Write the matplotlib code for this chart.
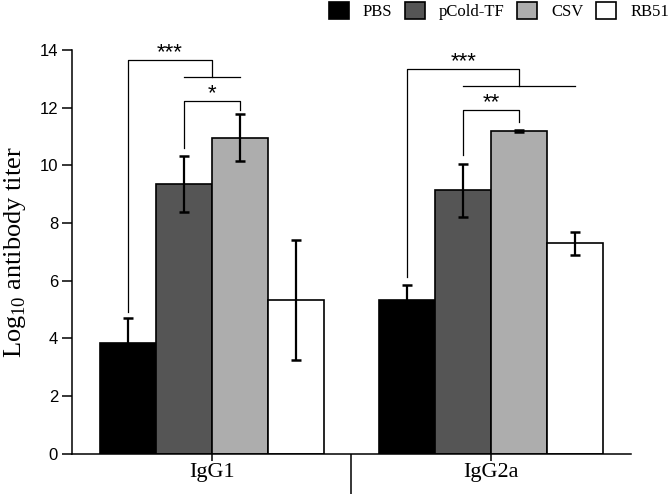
import matplotlib
matplotlib.use("Agg")
import matplotlib.pyplot as plt
import numpy as np

# Data
groups = ["IgG1", "IgG2a"]
treatments = ["PBS", "pCold-TF", "CSV", "RB51"]
colors = ["#000000", "#555555", "#adadad", "#ffffff"]

# mean log10 titer per treatment, one value per group
means = {
    "PBS": [3.84, 5.33],
    "pCold-TF": [9.35, 9.13],
    "CSV": [10.96, 11.19],
    "RB51": [5.33, 7.29],
}
errors = {
    "PBS": [0.87, 0.52],
    "pCold-TF": [0.97, 0.92],
    "CSV": [0.82, 0.04],
    "RB51": [2.08, 0.39],
}

# significance brackets: (group, left bar, right bar, left end, right end, top, label)
brackets = [
    (0, 1, 2, 10.59, 11.92, 12.22, "*"),
    (1, 1, 2, 10.36, 11.51, 11.91, "**"),
]
# bracket from PBS to a line spanning several bars: (group, to bar, span bars, left end, line y, top, label)
wide_brackets = [
    (0, 1.5, (1, 2), 4.92, 13.05, 13.64, "***"),
    (1, 2, (1, 3), 6.13, 12.76, 13.34, "***"),
]

serif = "Liberation Serif"
sans = "Liberation Sans"

fig = plt.figure(figsize=(6.69, 4.95), dpi=100)
ax = fig.add_axes([0.1076, 0.0838, 0.8356, 0.815])

x = np.arange(len(groups))
width = 0.2
offsets = [-0.3, -0.1, 0.1, 0.3]

for name, color, off in zip(treatments, colors, offsets):
    ax.bar(x + off, means[name], width, color=color, edgecolor="black",
           linewidth=1.2, label=name, zorder=2)
    ax.errorbar(x + off, means[name], yerr=errors[name], fmt="none",
                ecolor="black", elinewidth=1.6, capsize=3.8, capthick=1.8,
                zorder=3)

# brackets
lw = 0.9
for g, i, j, yl, yr, top, label in brackets:
    xl = g + offsets[i]
    xr = g + offsets[j]
    ax.plot([xl, xl, xr, xr], [yl, top, top, yr], color="black", lw=lw,
            clip_on=False, zorder=4)
    ax.text((xl + xr) / 2, top + 0.07, label, ha="center", va="baseline",
            fontsize=16, family=sans, clip_on=False)

for g, to, span, yl, ly, top, label in wide_brackets:
    xl = g + offsets[0]
    xm = g + (offsets[int(to)] if float(to).is_integer() else 0.0)
    ax.plot([xl, xl, xm, xm], [yl, top, top, ly], color="black", lw=lw,
            clip_on=False, zorder=4)
    ax.plot([g + offsets[span[0]], g + offsets[span[1]]], [ly, ly],
            color="black", lw=lw, clip_on=False, zorder=4)
    ax.text((xl + xm) / 2, top + 0.07, label, ha="center", va="baseline",
            fontsize=16, family=sans, clip_on=False)

ax.set_xlim(-0.5, 1.5)
ax.set_ylim(0, 14)
ax.set_yticks(np.arange(0, 15, 2))
ax.set_xticks(x)
ax.set_xticklabels(groups, fontsize=16, family=serif)
ax.set_xticks([0.5], minor=True)
for lab in ax.get_yticklabels():
    lab.set_fontsize(12)
    lab.set_family(sans)

ax.tick_params(axis="y", length=7, width=1.1, pad=3)
ax.tick_params(axis="x", which="major", length=5, width=1.1, pad=2)
ax.tick_params(axis="x", which="minor", length=29, width=1.1)

for side in ["top", "right"]:
    ax.spines[side].set_visible(False)
for side in ["left", "bottom"]:
    ax.spines[side].set_linewidth(1.1)

ax.set_ylabel("Log$_{\\mathregular{10}}$ antibody titer", fontsize=19,
              family=serif)
ax.yaxis.set_label_coords(-0.079, 0.5)

fig.legend(loc="upper right", bbox_to_anchor=(1.0, 0.996), ncol=4,
           frameon=False, prop={"family": serif, "size": 12},
           handlelength=1.2, handleheight=1.2, handletextpad=0.85,
           columnspacing=0.75, borderpad=0, borderaxespad=0)

fig.savefig("out.png", dpi=100)
